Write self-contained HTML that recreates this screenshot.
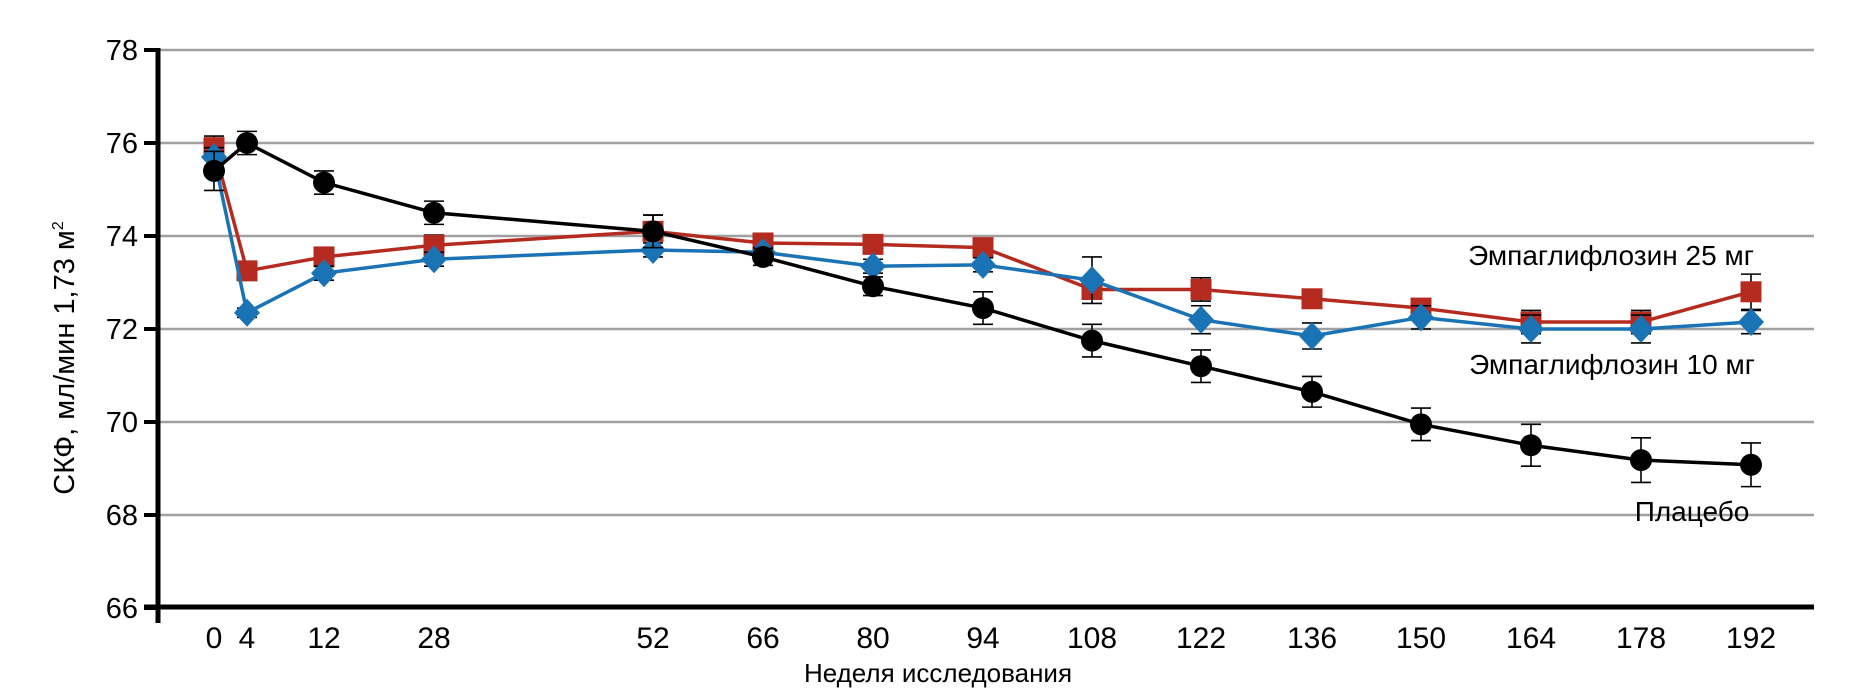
<!DOCTYPE html>
<html><head><meta charset="utf-8"><style>
html,body{margin:0;padding:0;background:#fff;}
svg{display:block;font-family:"Liberation Sans","DejaVu Sans",sans-serif;}
</style></head><body>
<svg id="c" width="1852" height="688" xmlns="http://www.w3.org/2000/svg">
<g id="grid" stroke="#a0a0a0" stroke-width="2.5"></g>
<g id="ylab" font-size="29" text-anchor="end" fill="#000"></g>
<g id="xlab" font-size="30" text-anchor="middle" fill="#000"></g>
<line x1="158" y1="48" x2="158" y2="623" stroke="#000" stroke-width="5"/>
<line x1="144" y1="607" x2="1814" y2="607" stroke="#000" stroke-width="5"/>
<g id="series"></g>
<text x="1611" y="265" font-size="28" text-anchor="middle">Эмпаглифлозин 25 мг</text>
<text x="1612" y="374" font-size="28" text-anchor="middle">Эмпаглифлозин 10 мг</text>
<text x="1692" y="521" font-size="28" text-anchor="middle">Плацебо</text>
<text x="938" y="682" font-size="26" text-anchor="middle">Неделя исследования</text>
<text transform="translate(74,358) rotate(-90)" font-size="29" text-anchor="middle">СКФ, мл/мин 1,73 м<tspan dy="-11" font-size="16">2</tspan></text>
</svg>
<script>
var NS="http://www.w3.org/2000/svg";
function el(p,t,a){var e=document.createElementNS(NS,t);for(var k in a)e.setAttribute(k,a[k]);p.appendChild(e);return e;}
function Y(v){return 50+(78-v)*46.5;}
var g=document.getElementById('grid'),yl=document.getElementById('ylab'),xl=document.getElementById('xlab');
for(var v=66;v<=78;v+=2){var y=Y(v);if(v>66)el(g,'line',{x1:158,y1:y,x2:1814,y2:y});
el(document.getElementById('c'),'line',{x1:144,y1:y,x2:158,y2:y,stroke:'#000','stroke-width':4});
var t=el(yl,'text',{x:138,y:y+10});t.textContent=v;}
var wk=[0,4,12,28,52,66,80,94,108,122,136,150,164,178,192];
var X=[214,247,324,434,653,763,873,983,1092,1201,1312,1421,1531,1641,1751];
for(var i=0;i<wk.length;i++){var t=el(xl,'text',{x:X[i],y:648});t.textContent=wk[i];}
var pl=[75.4,76.0,75.15,74.5,74.1,73.55,72.92,72.45,71.75,71.2,70.65,69.95,69.5,69.18,69.08];
var plE=[0.42,0.25,0.25,0.25,0.35,0.18,0.2,0.35,0.35,0.35,0.33,0.35,0.45,0.48,0.47];
var r25=[75.9,73.25,73.55,73.8,74.1,73.85,73.82,73.75,72.85,72.85,72.65,72.45,72.15,72.15,72.8];
var r25E=[0.25,0.1,0.15,0.22,0.35,0.1,0.15,0.2,0.2,0.25,0.2,0.18,0.25,0.25,0.38];
var b10=[75.7,72.35,73.2,73.5,73.7,73.65,73.35,73.38,73.05,72.2,71.85,72.25,72.0,72.0,72.15];
var b10E=[0.2,0.1,0.15,0.15,0.15,0.1,0.15,0.15,0.5,0.3,0.28,0.25,0.3,0.3,0.25];
var S=document.getElementById('series');
function series(vals,err,col,mk){
 var gg=el(S,'g',{});
 for(var i=0;i<vals.length;i++){var x=X[i],a=Y(vals[i]+err[i]),b=Y(vals[i]-err[i]);
  el(gg,'line',{x1:x,y1:a,x2:x,y2:b,stroke:'#000','stroke-width':1.6});
  el(gg,'line',{x1:x-10,y1:a,x2:x+10,y2:a,stroke:'#000','stroke-width':1.6});
  el(gg,'line',{x1:x-10,y1:b,x2:x+10,y2:b,stroke:'#000','stroke-width':1.6});}
 var p=vals.map(function(v,i){return X[i]+','+Y(v);}).join(' ');
 el(gg,'polyline',{points:p,fill:'none',stroke:col,'stroke-width':3.5});
 for(var i=0;i<vals.length;i++){var x=X[i],y=Y(vals[i]);
  if(mk=='c')el(gg,'circle',{cx:x,cy:y,r:11,fill:col});
  else if(mk=='s')el(gg,'rect',{x:x-10.5,y:y-10.5,width:21,height:21,fill:col});
  else el(gg,'polygon',{points:(x)+','+(y-14)+' '+(x+13)+','+y+' '+x+','+(y+14)+' '+(x-13)+','+y,fill:col});}
}
series(r25,r25E,'#b52b20','s');
series(b10,b10E,'#1a73b5','d');
series(pl,plE,'#000','c');
</script>
</body></html>
